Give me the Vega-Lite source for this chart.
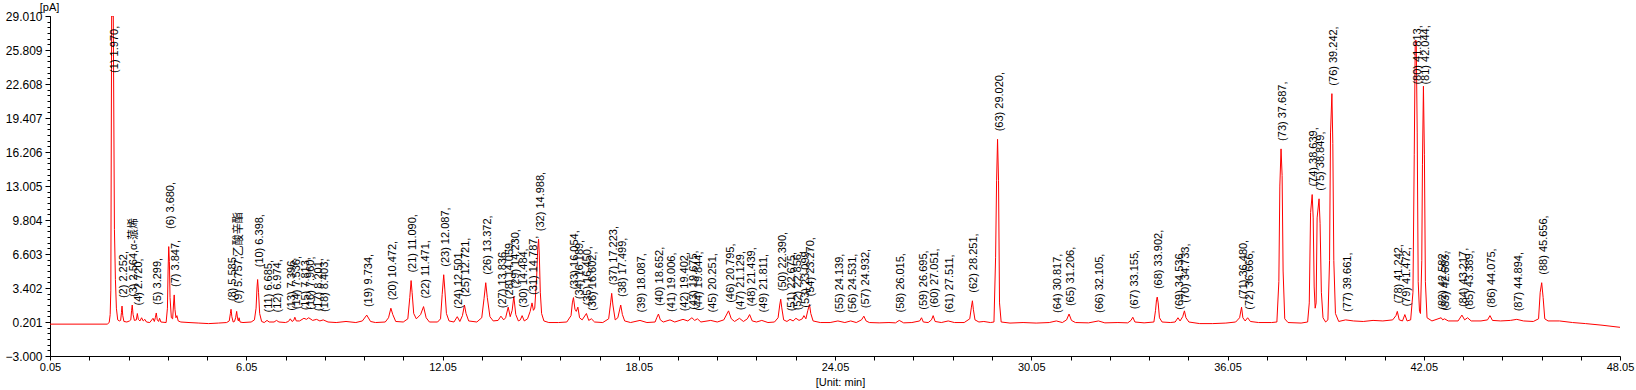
{
  "$schema": "https://vega.github.io/schema/vega-lite/v6.json",
  "width": 1570,
  "height": 340,
  "autosize": {"type": "none"},
  "padding": {"left": 50, "top": 16, "right": 16, "bottom": 34},
  "background": "white",
  "config": {"view": {"stroke": null}},
  "datasets": {
    "trace": [
      {"t":0.05,"v":0.0},{"t":1.80,"v":0.0},{"t":1.86,"v":0.15},{"t":1.89,"v":0.9},{"t":1.91,"v":3.2},{"t":1.935,"v":29.01},{"t":1.985,"v":29.01},{"t":2.02,"v":8.9},{"t":2.05,"v":4.2},{"t":2.08,"v":1.5},{"t":2.12,"v":0.4},{"t":2.17,"v":0.3},
      {"t":2.21,"v":0.35},{"t":2.235,"v":1.1},{"t":2.252,"v":1.7},{"t":2.275,"v":0.8},{"t":2.31,"v":0.25},{"t":2.40,"v":0.2},{"t":2.48,"v":0.3},
      {"t":2.52,"v":0.4},{"t":2.545,"v":1.3},{"t":2.564,"v":1.8},{"t":2.59,"v":0.9},{"t":2.63,"v":0.35},
      {"t":2.69,"v":0.4},{"t":2.72,"v":1.0},{"t":2.75,"v":0.45},{"t":2.80,"v":0.3},{"t":2.85,"v":0.6},{"t":2.90,"v":0.3},{"t":2.95,"v":0.45},{"t":3.00,"v":0.2},{"t":3.10,"v":0.15},{"t":3.20,"v":0.55},{"t":3.24,"v":0.25},
      {"t":3.27,"v":0.6},{"t":3.299,"v":1.05},{"t":3.33,"v":0.4},{"t":3.37,"v":0.25},{"t":3.40,"v":0.55},{"t":3.44,"v":0.2},
      {"t":3.60,"v":0.15},{"t":3.64,"v":1.5},{"t":3.66,"v":5.0},{"t":3.68,"v":7.3},{"t":3.70,"v":5.9},{"t":3.72,"v":2.5},{"t":3.76,"v":0.6},{"t":3.80,"v":0.5},
      {"t":3.825,"v":1.8},{"t":3.847,"v":2.75},{"t":3.87,"v":1.4},{"t":3.90,"v":0.6},{"t":3.93,"v":0.8},{"t":3.97,"v":0.3},{"t":4.05,"v":0.2},
      {"t":4.3,"v":0.15},{"t":4.6,"v":0.1},{"t":4.9,"v":0.05},{"t":5.2,"v":0.1},{"t":5.45,"v":0.15},
      {"t":5.53,"v":0.3},{"t":5.565,"v":1.0},{"t":5.585,"v":1.4},{"t":5.61,"v":0.7},{"t":5.65,"v":0.2},{"t":5.69,"v":0.25},
      {"t":5.725,"v":0.6},{"t":5.757,"v":1.2},{"t":5.785,"v":0.5},{"t":5.81,"v":0.3},{"t":5.83,"v":0.6},{"t":5.86,"v":0.2},{"t":5.95,"v":0.15},{"t":6.2,"v":0.2},
      {"t":6.30,"v":0.4},{"t":6.35,"v":1.5},{"t":6.38,"v":3.5},{"t":6.398,"v":4.2},{"t":6.425,"v":3.0},{"t":6.46,"v":1.0},{"t":6.52,"v":0.25},{"t":6.6,"v":0.15},
      {"t":6.685,"v":0.35},{"t":6.75,"v":0.2},{"t":6.9,"v":0.2},{"t":6.974,"v":0.35},{"t":7.05,"v":0.2},{"t":7.25,"v":0.15},
      {"t":7.34,"v":0.25},{"t":7.396,"v":0.5},{"t":7.45,"v":0.25},{"t":7.50,"v":0.35},{"t":7.536,"v":0.65},{"t":7.58,"v":0.3},{"t":7.68,"v":0.3},
      {"t":7.813,"v":0.55},{"t":7.89,"v":0.45},{"t":7.96,"v":0.6},{"t":8.08,"v":0.35},{"t":8.201,"v":0.45},{"t":8.30,"v":0.3},{"t":8.403,"v":0.4},{"t":8.55,"v":0.2},{"t":8.8,"v":0.15},{"t":9.1,"v":0.25},{"t":9.4,"v":0.15},
      {"t":9.6,"v":0.3},{"t":9.734,"v":0.85},{"t":9.85,"v":0.25},{"t":10.0,"v":0.15},{"t":10.3,"v":0.2},
      {"t":10.40,"v":0.6},{"t":10.472,"v":1.5},{"t":10.53,"v":0.9},{"t":10.62,"v":0.25},{"t":10.85,"v":0.2},
      {"t":10.99,"v":0.5},{"t":11.05,"v":2.5},{"t":11.09,"v":4.1},{"t":11.12,"v":3.0},{"t":11.17,"v":1.0},{"t":11.25,"v":0.5},
      {"t":11.38,"v":0.9},{"t":11.471,"v":1.65},{"t":11.55,"v":0.6},{"t":11.65,"v":0.2},{"t":11.9,"v":0.2},
      {"t":11.99,"v":0.5},{"t":12.04,"v":2.8},{"t":12.087,"v":4.65},{"t":12.12,"v":3.3},{"t":12.17,"v":1.0},{"t":12.25,"v":0.3},{"t":12.4,"v":0.2},
      {"t":12.501,"v":0.7},{"t":12.58,"v":0.25},{"t":12.66,"v":0.8},{"t":12.721,"v":1.8},{"t":12.77,"v":1.0},{"t":12.85,"v":0.3},{"t":13.1,"v":0.2},
      {"t":13.25,"v":0.6},{"t":13.32,"v":2.4},{"t":13.372,"v":3.9},{"t":13.42,"v":2.5},{"t":13.5,"v":0.7},{"t":13.6,"v":0.3},
      {"t":13.75,"v":0.35},{"t":13.836,"v":0.75},{"t":13.92,"v":0.4},{"t":13.98,"v":0.6},{"t":14.059,"v":1.6},{"t":14.12,"v":0.7},
      {"t":14.18,"v":1.3},{"t":14.23,"v":2.6},{"t":14.29,"v":0.9},{"t":14.37,"v":0.3},{"t":14.43,"v":0.4},{"t":14.484,"v":0.8},{"t":14.55,"v":0.3},{"t":14.65,"v":0.5},
      {"t":14.73,"v":1.2},{"t":14.787,"v":2.0},{"t":14.83,"v":1.3},{"t":14.87,"v":1.5},
      {"t":14.93,"v":4.5},{"t":14.96,"v":7.0},{"t":14.988,"v":8.0},{"t":15.01,"v":6.5},{"t":15.04,"v":3.0},{"t":15.08,"v":1.0},{"t":15.15,"v":0.3},{"t":15.3,"v":0.15},{"t":15.6,"v":0.15},{"t":15.85,"v":0.2},
      {"t":15.98,"v":0.8},{"t":16.02,"v":2.0},{"t":16.054,"v":2.5},{"t":16.10,"v":1.4},{"t":16.14,"v":1.2},{"t":16.189,"v":1.6},{"t":16.24,"v":0.6},{"t":16.32,"v":0.4},
      {"t":16.45,"v":1.0},{"t":16.52,"v":0.35},{"t":16.602,"v":0.5},{"t":16.7,"v":0.2},{"t":16.95,"v":0.15},
      {"t":17.13,"v":0.5},{"t":17.19,"v":2.0},{"t":17.223,"v":2.9},{"t":17.26,"v":1.8},{"t":17.33,"v":0.4},{"t":17.41,"v":0.6},{"t":17.499,"v":1.8},{"t":17.55,"v":0.9},{"t":17.62,"v":0.3},{"t":17.8,"v":0.15},
      {"t":18.087,"v":0.35},{"t":18.3,"v":0.15},{"t":18.55,"v":0.2},{"t":18.60,"v":0.6},{"t":18.652,"v":0.95},{"t":18.71,"v":0.4},{"t":18.8,"v":0.2},
      {"t":19.006,"v":0.4},{"t":19.15,"v":0.2},{"t":19.402,"v":0.45},{"t":19.55,"v":0.3},{"t":19.675,"v":0.6},{"t":19.76,"v":0.35},{"t":19.844,"v":0.5},{"t":19.95,"v":0.2},
      {"t":20.251,"v":0.35},{"t":20.45,"v":0.2},{"t":20.65,"v":0.4},{"t":20.795,"v":1.25},{"t":20.88,"v":0.5},{"t":20.98,"v":0.25},
      {"t":21.129,"v":0.55},{"t":21.25,"v":0.25},{"t":21.37,"v":0.5},{"t":21.439,"v":0.9},{"t":21.52,"v":0.3},{"t":21.65,"v":0.2},{"t":21.811,"v":0.35},{"t":22.0,"v":0.15},{"t":22.2,"v":0.2},
      {"t":22.31,"v":0.6},{"t":22.36,"v":1.8},{"t":22.39,"v":2.35},{"t":22.42,"v":1.6},{"t":22.48,"v":0.4},{"t":22.58,"v":0.25},
      {"t":22.675,"v":0.45},{"t":22.77,"v":0.3},{"t":22.856,"v":0.55},{"t":22.95,"v":0.35},{"t":23.05,"v":0.5},{"t":23.099,"v":0.8},{"t":23.16,"v":0.5},
      {"t":23.22,"v":1.3},{"t":23.27,"v":1.85},{"t":23.31,"v":1.0},{"t":23.38,"v":0.3},{"t":23.6,"v":0.15},{"t":23.9,"v":0.15},
      {"t":24.139,"v":0.3},{"t":24.35,"v":0.15},{"t":24.531,"v":0.3},{"t":24.7,"v":0.15},{"t":24.86,"v":0.4},{"t":24.932,"v":0.75},{"t":25.0,"v":0.3},{"t":25.1,"v":0.15},{"t":25.4,"v":0.12},{"t":25.7,"v":0.15},{"t":25.9,"v":0.12},
      {"t":26.015,"v":0.35},{"t":26.15,"v":0.12},{"t":26.4,"v":0.15},{"t":26.64,"v":0.3},{"t":26.695,"v":0.6},{"t":26.75,"v":0.2},{"t":26.9,"v":0.15},
      {"t":27.0,"v":0.4},{"t":27.051,"v":0.8},{"t":27.11,"v":0.25},{"t":27.3,"v":0.15},{"t":27.511,"v":0.3},{"t":27.7,"v":0.15},{"t":28.0,"v":0.15},
      {"t":28.17,"v":0.5},{"t":28.22,"v":1.6},{"t":28.251,"v":2.2},{"t":28.28,"v":1.4},{"t":28.33,"v":0.4},{"t":28.45,"v":0.2},{"t":28.6,"v":0.25},{"t":28.8,"v":0.15},
      {"t":28.91,"v":0.2},{"t":28.96,"v":6.3},{"t":28.99,"v":13.5},{"t":29.02,"v":17.4},{"t":29.05,"v":13.5},{"t":29.08,"v":2.0},{"t":29.13,"v":0.2},{"t":29.4,"v":0.1},{"t":29.8,"v":0.15},{"t":30.2,"v":0.1},{"t":30.6,"v":0.15},
      {"t":30.817,"v":0.3},{"t":31.0,"v":0.15},{"t":31.13,"v":0.4},{"t":31.206,"v":0.95},{"t":31.28,"v":0.35},{"t":31.4,"v":0.15},{"t":31.8,"v":0.12},
      {"t":32.105,"v":0.3},{"t":32.3,"v":0.12},{"t":32.7,"v":0.15},{"t":33.0,"v":0.12},{"t":33.10,"v":0.35},{"t":33.155,"v":0.65},{"t":33.22,"v":0.2},{"t":33.5,"v":0.12},{"t":33.8,"v":0.2},
      {"t":33.85,"v":1.3},{"t":33.88,"v":2.3},{"t":33.902,"v":2.55},{"t":33.93,"v":2.0},{"t":33.97,"v":0.6},{"t":34.05,"v":0.2},{"t":34.3,"v":0.15},{"t":34.45,"v":0.2},
      {"t":34.536,"v":0.6},{"t":34.6,"v":0.3},{"t":34.68,"v":0.7},{"t":34.733,"v":1.25},{"t":34.78,"v":0.6},{"t":34.87,"v":0.2},{"t":35.2,"v":0.05},{"t":35.6,"v":0.05},{"t":36.0,"v":0.1},{"t":36.3,"v":0.2},
      {"t":36.42,"v":0.6},{"t":36.48,"v":1.6},{"t":36.52,"v":0.6},{"t":36.59,"v":0.3},{"t":36.666,"v":0.6},{"t":36.75,"v":0.25},{"t":37.0,"v":0.15},{"t":37.4,"v":0.15},
      {"t":37.56,"v":0.2},{"t":37.62,"v":4.0},{"t":37.65,"v":13.0},{"t":37.687,"v":16.5},{"t":37.72,"v":14.0},{"t":37.75,"v":5.0},{"t":37.8,"v":0.5},{"t":37.9,"v":0.15},{"t":38.3,"v":0.1},{"t":38.5,"v":0.2},
      {"t":38.55,"v":2.0},{"t":38.59,"v":10.5},{"t":38.639,"v":12.2},{"t":38.67,"v":10.0},{"t":38.70,"v":3.5},{"t":38.73,"v":1.5},{"t":38.76,"v":2.0},
      {"t":38.79,"v":10.0},{"t":38.849,"v":11.8},{"t":38.88,"v":9.5},{"t":38.92,"v":3.0},{"t":38.97,"v":0.6},{"t":39.05,"v":0.2},{"t":39.12,"v":0.4},
      {"t":39.17,"v":6.0},{"t":39.20,"v":18.0},{"t":39.242,"v":21.7},{"t":39.27,"v":17.0},{"t":39.30,"v":6.0},{"t":39.35,"v":1.0},{"t":39.45,"v":0.25},
      {"t":39.661,"v":0.4},{"t":39.9,"v":0.3},{"t":40.2,"v":0.25},{"t":40.5,"v":0.35},{"t":40.8,"v":0.3},{"t":41.1,"v":0.4},
      {"t":41.2,"v":0.8},{"t":41.242,"v":1.2},{"t":41.3,"v":0.4},{"t":41.4,"v":0.3},{"t":41.472,"v":0.9},{"t":41.54,"v":0.3},{"t":41.65,"v":0.4},
      {"t":41.72,"v":3.0},{"t":41.76,"v":16.0},{"t":41.79,"v":26.7},{"t":41.82,"v":26.7},{"t":41.85,"v":18.0},{"t":41.88,"v":4.0},{"t":41.92,"v":1.2},{"t":41.95,"v":1.0},
      {"t":41.99,"v":6.0},{"t":42.01,"v":15.0},{"t":42.04,"v":22.4},{"t":42.07,"v":16.0},{"t":42.10,"v":4.0},{"t":42.15,"v":0.6},{"t":42.3,"v":0.3},
      {"t":42.582,"v":0.6},{"t":42.63,"v":0.4},{"t":42.683,"v":0.5},{"t":42.8,"v":0.3},{"t":43.1,"v":0.3},{"t":43.217,"v":0.85},{"t":43.3,"v":0.4},{"t":43.389,"v":0.6},{"t":43.5,"v":0.3},{"t":43.8,"v":0.3},
      {"t":44.0,"v":0.4},{"t":44.075,"v":0.8},{"t":44.15,"v":0.35},{"t":44.4,"v":0.3},{"t":44.7,"v":0.35},{"t":44.894,"v":0.45},{"t":45.1,"v":0.3},{"t":45.4,"v":0.25},
      {"t":45.56,"v":0.5},{"t":45.61,"v":3.0},{"t":45.656,"v":3.9},{"t":45.70,"v":2.5},{"t":45.75,"v":0.5},{"t":45.85,"v":0.3},{"t":46.2,"v":0.3},{"t":46.6,"v":0.15},{"t":47.0,"v":0.05},{"t":47.5,"v":-0.1},{"t":48.05,"v":-0.3}
    ],
    "peaks": [
      {"t":1.970,"ly":22.9,"label":"(1) 1.970,"},
      {"t":2.252,"ly":1.7,"label":"(2) 2.252,"},
      {"t":2.564,"ly":1.8,"label":"(3) 2.564,α-蒎烯"},
      {"t":2.720,"ly":1.0,"label":"(4) 2.720,"},
      {"t":3.299,"ly":1.05,"label":"(5) 3.299,"},
      {"t":3.680,"ly":8.2,"label":"(6) 3.680,"},
      {"t":3.847,"ly":2.75,"label":"(7) 3.847,"},
      {"t":5.585,"ly":1.4,"label":"(8) 5.585,"},
      {"t":5.757,"ly":1.2,"label":"(9) 5.757,乙酸辛酯"},
      {"t":6.398,"ly":4.6,"label":"(10) 6.398,"},
      {"t":6.685,"ly":0.35,"label":"(11) 6.685,"},
      {"t":6.974,"ly":0.35,"label":"(12) 6.974,"},
      {"t":7.396,"ly":0.5,"label":"(13) 7.396,"},
      {"t":7.536,"ly":0.65,"label":"(14) 7.536,"},
      {"t":7.813,"ly":0.55,"label":"(15) 7.813,"},
      {"t":7.960,"ly":0.6,"label":"(16) 7.960,"},
      {"t":8.201,"ly":0.45,"label":"(17) 8.201,"},
      {"t":8.403,"ly":0.4,"label":"(18) 8.403,"},
      {"t":9.734,"ly":0.85,"label":"(19) 9.734,"},
      {"t":10.472,"ly":1.5,"label":"(20) 10.472,"},
      {"t":11.090,"ly":4.1,"label":"(21) 11.090,"},
      {"t":11.471,"ly":1.65,"label":"(22) 11.471,"},
      {"t":12.087,"ly":4.65,"label":"(23) 12.087,"},
      {"t":12.501,"ly":0.7,"label":"(24) 12.501,"},
      {"t":12.721,"ly":1.8,"label":"(25) 12.721,"},
      {"t":13.372,"ly":3.9,"label":"(26) 13.372,"},
      {"t":13.836,"ly":0.75,"label":"(27) 13.836,"},
      {"t":14.059,"ly":1.6,"label":"(28) 14.059,"},
      {"t":14.230,"ly":2.6,"label":"(29) 14.230,"},
      {"t":14.484,"ly":0.8,"label":"(30) 14.484,"},
      {"t":14.787,"ly":2.0,"label":"(31) 14.787,"},
      {"t":14.988,"ly":8.0,"label":"(32) 14.988,"},
      {"t":16.054,"ly":2.5,"label":"(33) 16.054,"},
      {"t":16.189,"ly":1.6,"label":"(34) 16.189,"},
      {"t":16.450,"ly":1.0,"label":"(35) 16.450,"},
      {"t":16.602,"ly":0.5,"label":"(36) 16.602,"},
      {"t":17.223,"ly":2.9,"label":"(37) 17.223,"},
      {"t":17.499,"ly":1.8,"label":"(38) 17.499,"},
      {"t":18.087,"ly":0.35,"label":"(39) 18.087,"},
      {"t":18.652,"ly":0.95,"label":"(40) 18.652,"},
      {"t":19.006,"ly":0.4,"label":"(41) 19.006,"},
      {"t":19.402,"ly":0.45,"label":"(42) 19.402,"},
      {"t":19.675,"ly":0.6,"label":"(43) 19.675,"},
      {"t":19.844,"ly":0.5,"label":"(44) 19.844,"},
      {"t":20.251,"ly":0.35,"label":"(45) 20.251,"},
      {"t":20.795,"ly":1.25,"label":"(46) 20.795,"},
      {"t":21.129,"ly":0.55,"label":"(47) 21.129,"},
      {"t":21.439,"ly":0.9,"label":"(48) 21.439,"},
      {"t":21.811,"ly":0.35,"label":"(49) 21.811,"},
      {"t":22.390,"ly":2.35,"label":"(50) 22.390,"},
      {"t":22.675,"ly":0.45,"label":"(51) 22.675,"},
      {"t":22.856,"ly":0.55,"label":"(52) 22.856,"},
      {"t":23.099,"ly":0.8,"label":"(53) 23.099,"},
      {"t":23.270,"ly":1.85,"label":"(54) 23.270,"},
      {"t":24.139,"ly":0.3,"label":"(55) 24.139,"},
      {"t":24.531,"ly":0.3,"label":"(56) 24.531,"},
      {"t":24.932,"ly":0.75,"label":"(57) 24.932,"},
      {"t":26.015,"ly":0.35,"label":"(58) 26.015,"},
      {"t":26.695,"ly":0.6,"label":"(59) 26.695,"},
      {"t":27.051,"ly":0.8,"label":"(60) 27.051,"},
      {"t":27.511,"ly":0.3,"label":"(61) 27.511,"},
      {"t":28.251,"ly":2.2,"label":"(62) 28.251,"},
      {"t":29.020,"ly":17.4,"label":"(63) 29.020,"},
      {"t":30.817,"ly":0.3,"label":"(64) 30.817,"},
      {"t":31.206,"ly":0.95,"label":"(65) 31.206,"},
      {"t":32.105,"ly":0.3,"label":"(66) 32.105,"},
      {"t":33.155,"ly":0.65,"label":"(67) 33.155,"},
      {"t":33.902,"ly":2.55,"label":"(68) 33.902,"},
      {"t":34.536,"ly":0.6,"label":"(69) 34.536,"},
      {"t":34.733,"ly":1.25,"label":"(70) 34.733,"},
      {"t":36.480,"ly":1.6,"label":"(71) 36.480,"},
      {"t":36.666,"ly":0.6,"label":"(72) 36.666,"},
      {"t":37.687,"ly":16.5,"label":"(73) 37.687,"},
      {"t":38.639,"ly":12.2,"label":"(74) 38.639,"},
      {"t":38.849,"ly":11.8,"label":"(75) 38.849,"},
      {"t":39.242,"ly":21.7,"label":"(76) 39.242,"},
      {"t":39.661,"ly":0.4,"label":"(77) 39.661,"},
      {"t":41.242,"ly":1.2,"label":"(78) 41.242,"},
      {"t":41.472,"ly":0.9,"label":"(79) 41.472,"},
      {"t":41.813,"ly":21.8,"label":"(80) 41.813,"},
      {"t":42.044,"ly":21.8,"label":"(81) 42.044,"},
      {"t":42.582,"ly":0.6,"label":"(82) 42.582,"},
      {"t":42.683,"ly":0.5,"label":"(83) 42.683,"},
      {"t":43.217,"ly":0.85,"label":"(84) 43.217,"},
      {"t":43.389,"ly":0.6,"label":"(85) 43.389,"},
      {"t":44.075,"ly":0.8,"label":"(86) 44.075,"},
      {"t":44.894,"ly":0.45,"label":"(87) 44.894,"},
      {"t":45.656,"ly":3.9,"label":"(88) 45.656,"}
    ]
  },
  "encoding": {
    "x": {
      "field": "t", "type": "quantitative",
      "scale": {"domain": [0.05, 48.05], "nice": false, "zero": false},
      "axis": {
        "title": "[Unit: min]",
        "titleFont": "Liberation Sans Narrow, Liberation Sans",
        "titleFontSize": 11, "titleFontWeight": "normal", "titleColor": "#000000",
        "titleX": 790, "titleY": 26, "titleAlign": "center", "titleBaseline": "middle",
        "values": [0.05,1.25,2.45,3.65,4.85,6.05,7.25,8.45,9.65,10.85,12.05,13.25,14.45,15.65,16.85,18.05,19.25,20.45,21.65,22.85,24.05,25.25,26.45,27.65,28.85,30.05,31.25,32.45,33.65,34.85,36.05,37.25,38.45,39.65,40.85,42.05,43.25,44.45,45.65,46.85,48.05],
        "labelExpr": "abs((datum.value - 0.05) / 6 - round((datum.value - 0.05) / 6)) < 0.01 ? format(datum.value, '.2f') : ''",
        "labelFont": "Liberation Sans Narrow, Liberation Sans",
        "labelFontSize": 11, "labelColor": "#000000",
        "labelPadding": 1, "labelFlush": false, "labelOverlap": false,
        "tickSize": 4, "tickColor": "#000000", "domainColor": "#000000",
        "grid": false
      }
    }
  },
  "resolve": {"axis": {"y": "independent"}},
  "layer": [
    {
      "data": {"name": "trace"},
      "mark": {"type": "line", "color": "#ff0000", "strokeWidth": 1, "clip": true, "interpolate": "linear"},
      "encoding": {
        "y": {
          "field": "v", "type": "quantitative",
          "scale": {"domain": [-3, 29.01], "nice": false, "zero": false},
          "axis": {
            "orient": "left",
            "title": "[pA]",
            "titleAngle": 0, "titleX": -1, "titleY": -9,
            "titleAlign": "center", "titleBaseline": "middle",
            "titleFont": "Liberation Sans Narrow, Liberation Sans",
            "titleFontSize": 11, "titleFontWeight": "normal", "titleColor": "#000000",
            "values": [-3.0, 0.201, 3.402, 6.603, 9.804, 13.005, 16.206, 19.407, 22.608, 25.809, 29.01],
            "format": ".3f",
            "labelFont": "Liberation Sans", "labelFontSize": 12, "labelColor": "#000000",
            "labelPadding": 3, "labelOverlap": false, "labelFlush": false,
            "tickSize": 5, "tickColor": "#000000", "domainColor": "#000000",
            "grid": false
          }
        }
      }
    },
    {
      "data": {"name": "peaks"},
      "mark": {"type": "text", "angle": 270, "align": "left", "baseline": "middle", "dx": 8, "dy": 2,
               "font": "Liberation Sans, Noto Sans CJK SC", "fontSize": 11, "color": "#000000"},
      "encoding": {
        "y": {"field": "ly", "type": "quantitative", "scale": {"domain": [-3, 29.01], "nice": false, "zero": false}, "axis": null},
        "text": {"field": "label"}
      }
    },
    {
      "data": {"name": "peaks"},
      "mark": {"type": "point", "opacity": 0},
      "encoding": {
        "y": {
          "field": "ly", "type": "quantitative",
          "scale": {"domain": [-3, 29.01], "nice": false, "zero": false},
          "axis": {
            "orient": "left", "title": null, "labels": false, "domain": false, "grid": false,
            "tickSize": 3, "tickColor": "#000000",
            "values": [-3.0,-2.4665,-1.933,-1.3995,-0.866,-0.3325,0.201,0.7345,1.268,1.8015,2.335,2.8685,3.402,3.9355,4.469,5.0025,5.536,6.0695,6.603,7.1365,7.67,8.2035,8.737,9.2705,9.804,10.3375,10.871,11.4045,11.938,12.4715,13.005,13.5385,14.072,14.6055,15.139,15.6725,16.206,16.7395,17.273,17.8065,18.34,18.8735,19.407,19.9405,20.474,21.0075,21.541,22.0745,22.608,23.1415,23.675,24.2085,24.742,25.2755,25.809,26.3425,26.876,27.4095,27.943,28.4765,29.01]
          }
        }
      }
    }
  ]
}
